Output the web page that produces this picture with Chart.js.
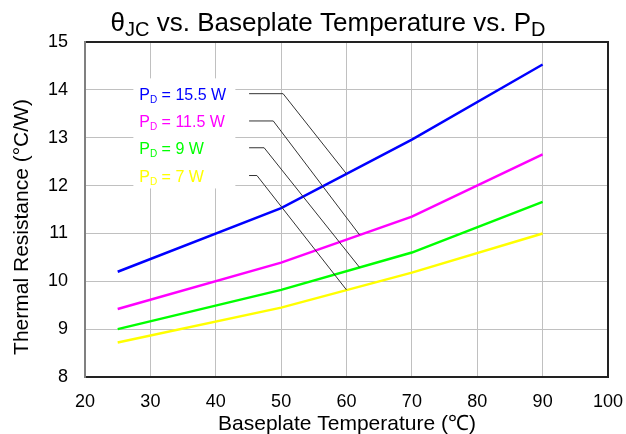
<!DOCTYPE html>
<html><head><meta charset="utf-8">
<script src="https://cdn.jsdelivr.net/npm/chart.js@4"></script>
<style>html,body{margin:0;padding:0;background:#fff}</style>
</head><body>
<div style="width:626px;height:434px;position:relative"><canvas id="c" width="626" height="434"></canvas></div>
<script>
// ---- data ----
const temps = [25, 50, 70, 90];
const pd155 = [10.20, 11.53, 12.96, 14.53];
const pd115 = [9.42, 10.39, 11.35, 12.65];
const pd9   = [9.00, 9.82, 10.60, 11.66];
const pd7   = [8.72, 9.45, 10.18, 11.00];
const seriesValues = [pd155, pd115, pd9, pd7];
const seriesNames = ['15.5 W', '11.5 W', '9 W', '7 W'];
const seriesColors = ['#0000ff', '#ff00ff', '#00ff00', '#ffff00'];
const xTickValues = [20, 30, 40, 50, 60, 70, 80, 90, 100];
const yTickValues = [8, 9, 10, 11, 12, 13, 14, 15];
// callout labels (data coordinates)
const labelTextX = 28.3;
const labelY = [13.92, 13.35, 12.79, 12.21];
const leaderStartX = 45.1;
const leaderKneeX = [50.3, 48.8, 47.4, 46.3];
const leaderEndX = [60, 62, 62, 60];
const leaderEndY = [12.245, 10.97, 10.29, 9.82];
const labelBoxX = [27.4, 43.0];
const labelBoxY = [11.94, 14.24];

const FONT = '"Liberation Sans", Arial, Helvetica, sans-serif';

function drawRich(ctx, parts, x, y, size, align, subRatio, subShift) {
  const subSize = Math.round(size * subRatio);
  let w = 0;
  const widths = parts.map(([t, sub]) => {
    ctx.font = (sub ? subSize : size) + 'px ' + FONT;
    const m = ctx.measureText(t).width; w += m; return m;
  });
  let cx = align === 'center' ? x - w / 2 : x;
  ctx.textAlign = 'left';
  ctx.textBaseline = 'alphabetic';
  parts.forEach(([t, sub], i) => {
    ctx.font = (sub ? subSize : size) + 'px ' + FONT;
    ctx.fillText(t, cx, sub ? y + subShift : y);
    cx += widths[i];
  });
}

const decor = {
  id: 'decor',
  beforeDatasetsDraw(chart) {
    const {ctx, scales: {x, y}} = chart;
    ctx.save();
    ctx.fillStyle = '#ffffff';
    const x0 = x.getPixelForValue(labelBoxX[0]), x1 = x.getPixelForValue(labelBoxX[1]);
    const y0 = y.getPixelForValue(labelBoxY[1]), y1 = y.getPixelForValue(labelBoxY[0]);
    ctx.fillRect(x0, y0, x1 - x0, y1 - y0);
    ctx.restore();
  },
  afterDatasetsDraw(chart) {
    const {ctx, scales: {x, y}} = chart;
    ctx.save();
    ctx.lineWidth = 1;
    ctx.strokeStyle = '#333333';
    for (let i = 0; i < labelY.length; i++) {
      ctx.beginPath();
      ctx.moveTo(x.getPixelForValue(leaderStartX), y.getPixelForValue(labelY[i]));
      ctx.lineTo(x.getPixelForValue(leaderKneeX[i]), y.getPixelForValue(labelY[i]));
      ctx.lineTo(x.getPixelForValue(leaderEndX[i]), y.getPixelForValue(leaderEndY[i]));
      ctx.stroke();
    }
    for (let i = 0; i < labelY.length; i++) {
      ctx.fillStyle = seriesColors[i];
      drawRich(ctx, [['P', false], ['D', true], [' = ' + seriesNames[i], false]],
        x.getPixelForValue(labelTextX), y.getPixelForValue(labelY[i]) + 6, 16, 'left', 0.65, 3);
    }
    ctx.restore();
  },
  afterDraw(chart) {
    const {ctx, chartArea: a} = chart;
    ctx.save();
    ctx.lineWidth = 2;
    ctx.strokeStyle = '#222222';
    ctx.beginPath();
    ctx.moveTo(a.left, a.top); ctx.lineTo(a.right, a.top); ctx.lineTo(a.right, a.bottom); ctx.lineTo(a.left, a.bottom);
    ctx.stroke();
    ctx.strokeStyle = '#808080';
    ctx.beginPath(); ctx.moveTo(a.left, a.top - 1); ctx.lineTo(a.left, a.bottom + 1); ctx.stroke();
    ctx.fillStyle = '#000';
    drawRich(ctx, [['θ', false], ['JC', true], [' vs. Baseplate Temperature vs. P', false], ['D', true]],
      328, 31, 26, 'center', 0.75, 5);
    ctx.translate(22, 227);
    ctx.rotate(-Math.PI / 2);
    ctx.font = '21px ' + FONT;
    ctx.textAlign = 'center';
    ctx.textBaseline = 'middle';
    ctx.fillText('Thermal Resistance (°C/W)', 0, 0);
    ctx.restore();
    ctx.save();
    ctx.font = '21px ' + FONT;
    ctx.fillStyle = '#000';
    ctx.textAlign = 'center';
    ctx.textBaseline = 'alphabetic';
    ctx.fillText('Baseplate Temperature (℃)', 347, 430);
    ctx.restore();
  }
};

new Chart(document.getElementById('c'), {
  type: 'line',
  data: {
    datasets: seriesValues.map((vals, i) => ({
      label: 'PD = ' + seriesNames[i],
      data: temps.map((t, j) => ({x: t, y: vals[j]})),
      borderColor: seriesColors[i],
      borderWidth: 2.5,
      pointRadius: 0,
      tension: 0,
      fill: false
    }))
  },
  options: {
    responsive: false,
    animation: false,
    devicePixelRatio: 1,
    layout: {padding: {left: 0, right: 18, top: 42, bottom: 0}},
    plugins: {legend: {display: false}, tooltip: {enabled: false}, title: {display: false}},
    scales: {
      x: {
        type: 'linear', min: 20, max: 100,
        afterBuildTicks: s => { s.ticks = xTickValues.map(v => ({value: v})); },
        afterFit: s => { s.height = 57; s.paddingLeft = 0; s.paddingRight = 0; },
        grid: {color: '#c0c0c0', lineWidth: 1, drawTicks: false},
        border: {display: false},
        ticks: {color: '#000', font: {family: FONT, size: 18}, padding: 14, maxRotation: 0, autoSkip: false}
      },
      y: {
        type: 'linear', min: 8, max: 15,
        afterBuildTicks: s => { s.ticks = yTickValues.map(v => ({value: v})); },
        afterFit: s => { s.width = 85; s.paddingTop = 0; s.paddingBottom = 0; },
        grid: {color: '#c0c0c0', lineWidth: 1, drawTicks: false},
        border: {display: false},
        ticks: {color: '#000', font: {family: FONT, size: 18}, padding: 17, autoSkip: false}
      }
    }
  },
  plugins: [decor]
});
</script>
</body></html>
